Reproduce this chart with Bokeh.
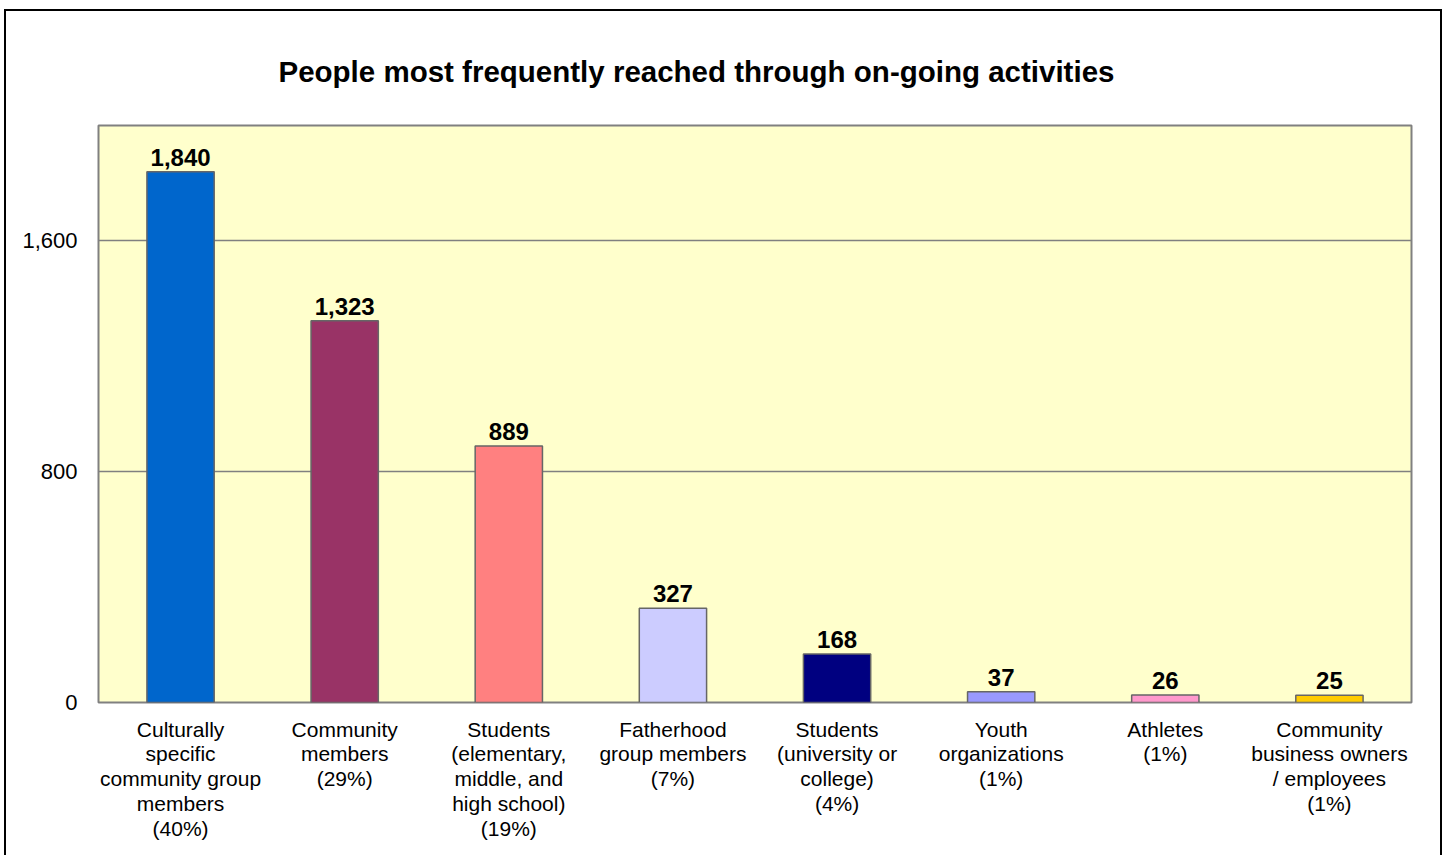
from bokeh.plotting import figure
from bokeh.models import ColumnDataSource, FixedTicker, NumeralTickFormatter, Range1d
from bokeh.core.properties import value
from bokeh.embed import file_html
from bokeh.resources import INLINE

categories = [
    "Culturally\nspecific\ncommunity group\nmembers\n(40%)",
    "Community\nmembers\n(29%)",
    "Students\n(elementary,\nmiddle, and\nhigh school)\n(19%)",
    "Fatherhood\ngroup members\n(7%)",
    "Students\n(university or\ncollege)\n(4%)",
    "Youth\norganizations\n(1%)",
    "Athletes\n(1%)",
    "Community\nbusiness owners\n/ employees\n(1%)",
]
values = [1840, 1323, 889, 327, 168, 37, 26, 25]
value_labels = ["1,840", "1,323", "889", "327", "168", "37", "26", "25"]
colors = ["#0066CC", "#993366", "#FF8080", "#CCCCFF", "#000080", "#9999FF", "#FF99CC", "#FFCC00"]
y_ticks = [0, 800, 1600]

FONT = "Liberation Sans"

src = ColumnDataSource(dict(cat=categories, val=values, lab=value_labels, col=colors))

p = figure(
    x_range=categories,
    y_range=Range1d(0, 2000),
    width=1438, height=846,
    output_backend="svg", toolbar_location=None,
    min_border_left=92, min_border_right=33, min_border_top=114, min_border_bottom=155,
    title="People most frequently reached through on-going activities",
)
p.styles = {"border": "2px solid black", "border-bottom": "none",
            "margin-left": "4px", "margin-top": "9px", "box-sizing": "border-box"}

p.title.text_font = FONT
p.title.text_font_size = "29.5px"
p.title.text_font_style = "bold"
p.title.align = "left"
p.title.offset = 180
p.title.standoff = 75
p.title.text_color = "black"

p.background_fill_color = "#FFFFCC"
p.border_fill_color = "white"
p.outline_line_color = "#808080"
p.outline_line_width = 2

p.vbar(x="cat", top="val", width=0.41, source=src, fill_color="col",
       line_color="#666666", line_width=1.5)

p.text(x="cat", y="val", text="lab", source=src, text_align="center",
       text_baseline="bottom", y_offset=-6, text_font_size="24px",
       text_font_style="bold", text_color="black", text_font=value(FONT))

p.xgrid.grid_line_color = None
p.ygrid.ticker = FixedTicker(ticks=y_ticks)
p.ygrid.grid_line_color = "#808080"
p.ygrid.grid_line_width = 1.5

p.yaxis.ticker = FixedTicker(ticks=y_ticks)
p.yaxis.formatter = NumeralTickFormatter(format="0,0")
p.yaxis.axis_line_color = None
p.yaxis.major_tick_line_color = None
p.yaxis.minor_tick_line_color = None
p.yaxis.major_label_standoff = 15
p.yaxis.major_label_text_font = FONT
p.yaxis.major_label_text_font_size = "22px"
p.yaxis.major_label_text_color = "black"

ax = p.xaxis[0]
ax.axis_line_color = None
ax.major_tick_line_color = None
ax.minor_tick_line_color = None
ax.major_tick_out = 0
ax.major_tick_in = 0
ax.major_label_standoff = 15
ax.major_label_text_font = FONT
ax.major_label_text_font_size = "21px"
ax.major_label_text_color = "black"
ax.major_label_text_line_height = 1.08
ax.major_label_orientation = "horizontal"

open("out.html", "w").write(file_html(p, INLINE))
